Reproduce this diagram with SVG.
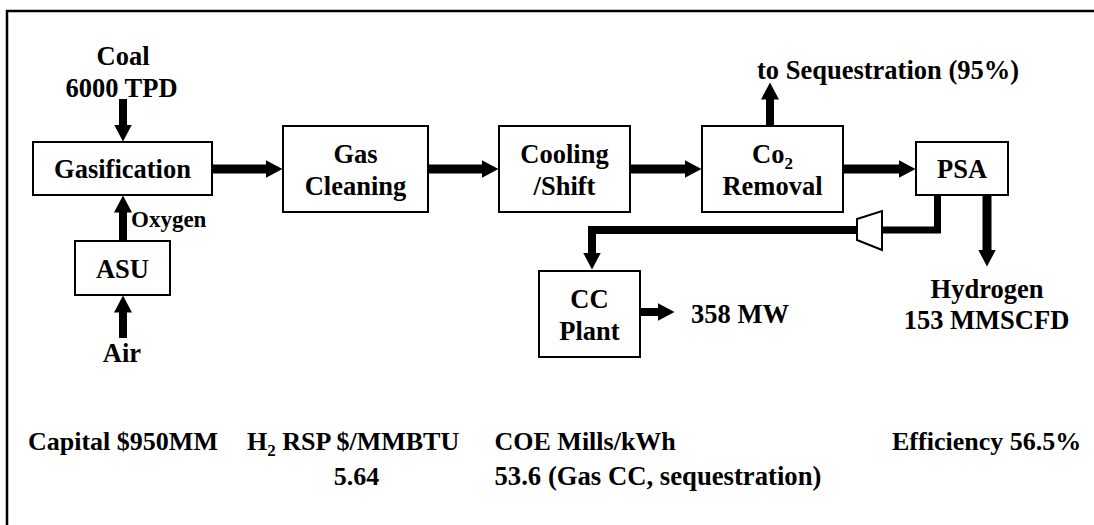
<svg xmlns="http://www.w3.org/2000/svg" width="1094" height="525" viewBox="0 0 1094 525">
<style>
text{font-family:"Liberation Serif","Times New Roman",serif;font-weight:bold;font-size:26.5px;fill:#000}
.box{fill:#fff;stroke:#000;stroke-width:2}
.c{text-anchor:middle}
.flow{fill:none;stroke:#000;stroke-width:8;marker-end:url(#ah)}
.pipe{fill:none;stroke:#000;stroke-width:7;stroke-linejoin:miter}
.sub{font-size:17px}
.sum{font-size:26px}
</style>
<defs>
<marker id="ah" markerUnits="userSpaceOnUse" viewBox="0 0 17 18" markerWidth="17" markerHeight="18" refX="0.5" refY="9" orient="auto">
<path d="M0,0 L17,9 L0,18 z" fill="#000"/>
</marker>
</defs>
<rect x="0" y="0" width="1094" height="525" fill="#fff"/>
<rect x="7" y="11" width="1100" height="530" fill="none" stroke="#000" stroke-width="2.5"/>

<g id="connectors">
<path class="flow" d="M123,99 V125"/>
<path class="flow" d="M123,241 V212"/>
<path class="flow" d="M123,338 V312"/>
<path class="flow" style="stroke-width:9" d="M212,169 H266"/>
<path class="flow" style="stroke-width:9" d="M428,169 H482"/>
<path class="flow" style="stroke-width:9" d="M630,169 H685"/>
<path class="flow" style="stroke-width:9" d="M843,169 H899"/>
<path class="flow" d="M770,126 V99"/>
<path class="flow" style="stroke-width:9" d="M987,195 V250"/>
<path class="pipe" d="M937.5,195 V230 H882"/>
<path class="flow" d="M857,230 H592 V253"/>
<path class="flow" d="M641,312 H658"/>
</g>

<g id="compressor">
<polygon points="857,219 882,211 882,250 857,240" fill="#fff" stroke="#000" stroke-width="2"/>
</g>

<g id="coal"><text class="c" x="123" y="65">Coal</text><text class="c" x="121.5" y="97">6000 TPD</text></g>
<g id="gasification"><rect class="box" x="33" y="142" width="179" height="53"/><text class="c" x="122.5" y="178">Gasification</text></g>
<g id="oxygen"><text x="131" y="227" style="font-size:23px">Oxygen</text></g>
<g id="asu"><rect class="box" x="75" y="241" width="95" height="54"/><text class="c" x="122.5" y="278">ASU</text></g>
<g id="air"><text class="c" x="122" y="362">Air</text></g>
<g id="gas-cleaning"><rect class="box" x="283" y="126" width="145" height="86"/><text class="c" x="355.5" y="163">Gas</text><text class="c" x="355.5" y="195">Cleaning</text></g>
<g id="cooling-shift"><rect class="box" x="499" y="126" width="131" height="86"/><text class="c" x="564.5" y="163">Cooling</text><text class="c" x="564.5" y="195">/Shift</text></g>
<g id="co2-removal"><rect class="box" x="702" y="126" width="141" height="86"/><text class="c" x="772.5" y="163">Co<tspan class="sub" dy="6">2</tspan></text><text class="c" x="772.5" y="195">Removal</text></g>
<g id="sequestration"><text x="757" y="79">to Sequestration (95%)</text></g>
<g id="psa"><rect class="box" x="916" y="142" width="92" height="53"/><text class="c" x="962" y="178">PSA</text></g>
<g id="hydrogen"><text class="c" x="987" y="298">Hydrogen</text><text class="c" x="986.5" y="329">153 MMSCFD</text></g>
<g id="cc-plant"><rect class="box" x="539" y="271" width="101" height="86"/><text class="c" x="589.5" y="308">CC</text><text class="c" x="589.5" y="340">Plant</text></g>
<g id="power"><text x="691" y="323">358 MW</text></g>

<g id="summary">
<text class="sum" x="28" y="450">Capital $950MM</text>
<text class="sum" x="247" y="450">H<tspan class="sub" dy="6">2</tspan><tspan dy="-6"> RSP $/MMBTU</tspan></text>
<text class="sum c" x="356.5" y="485">5.64</text>
<text class="sum" x="494.5" y="450">COE Mills/kWh</text>
<text class="sum" x="494.5" y="485" style="font-size:26.7px">53.6 (Gas CC, sequestration)</text>
<text class="sum" x="892" y="450">Efficiency 56.5%</text>
</g>
</svg>
